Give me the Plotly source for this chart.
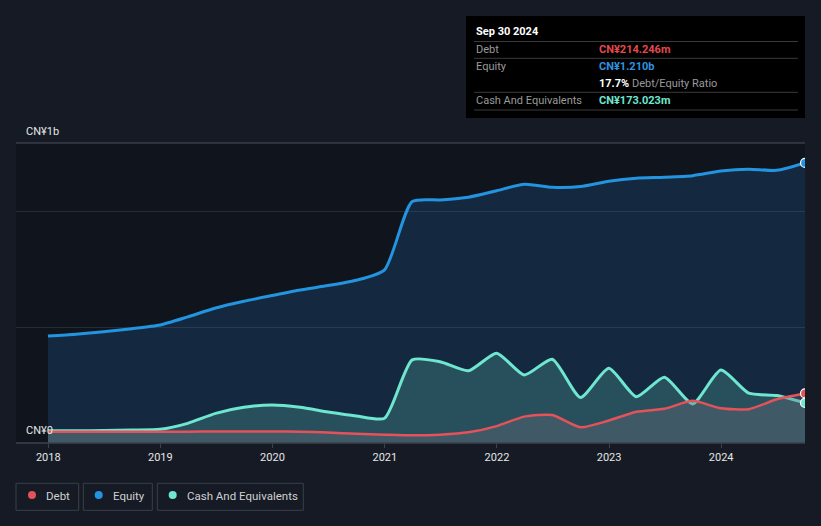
import plotly.graph_objects as go

# quarter ends, values in CN¥ billions
fechas = ['2017-12-31', '2018-03-31', '2018-06-30', '2018-09-30', '2018-12-31',
          '2019-03-31', '2019-06-30', '2019-09-30', '2019-12-31',
          '2020-03-31', '2020-06-30', '2020-09-30', '2020-12-31',
          '2021-03-31', '2021-06-30', '2021-09-30', '2021-12-31',
          '2022-03-31', '2022-06-30', '2022-09-30', '2022-12-31',
          '2023-03-31', '2023-06-30', '2023-09-30', '2023-12-31',
          '2024-03-31', '2024-06-30', '2024-09-30']

equity = [0.462, 0.470, 0.481, 0.494, 0.510,
          0.545, 0.583, 0.612, 0.637,
          0.661, 0.680, 0.703, 0.748,
          1.043, 1.050, 1.062, 1.090,
          1.118, 1.105, 1.108, 1.131,
          1.144, 1.148, 1.155, 1.175,
          1.183, 1.178, 1.210]

cash = [0.053, 0.053, 0.054, 0.056, 0.059,
        0.085, 0.128, 0.154, 0.164,
        0.154, 0.134, 0.117, 0.107,
        0.359, 0.351, 0.312, 0.388,
        0.294, 0.362, 0.197, 0.323,
        0.200, 0.284, 0.169, 0.315,
        0.215, 0.205, 0.173]

debt = [0.049, 0.049, 0.049, 0.049, 0.049,
        0.049, 0.050, 0.050, 0.050,
        0.049, 0.045, 0.040, 0.036,
        0.033, 0.036, 0.046, 0.073,
        0.114, 0.121, 0.068, 0.097,
        0.135, 0.148, 0.182, 0.150,
        0.146, 0.189, 0.214]

anios = ['2018', '2019', '2020', '2021', '2022', '2023', '2024']

c_debt = '#e5525a'
c_equity = '#2394df'
c_cash = '#6ee6d0'
fondo = '#151a24'

fig = go.Figure()
fig.add_trace(go.Scatter(x=fechas, y=equity, name='Equity', mode='lines',
                         line=dict(color=c_equity, width=3, shape='spline', smoothing=0.6),
                         fill='tozeroy', fillcolor='rgba(35,120,190,0.22)'))
fig.add_trace(go.Scatter(x=fechas, y=cash, name='Cash And Equivalents', mode='lines',
                         line=dict(color=c_cash, width=3, shape='spline', smoothing=0.6),
                         fill='tozeroy', fillcolor='rgba(95,200,180,0.25)'))
fig.add_trace(go.Scatter(x=fechas, y=debt, name='Debt', mode='lines',
                         line=dict(color=c_debt, width=2.5, shape='spline', smoothing=0.6),
                         fill='tozeroy', fillcolor='rgba(110,110,120,0.35)'))
# puntos finales
for serie, color in [(equity, c_equity), (debt, c_debt), (cash, c_cash)]:
    fig.add_trace(go.Scatter(x=[fechas[-1]], y=[serie[-1]], mode='markers',
                             marker=dict(color=color, size=9, line=dict(color='white', width=1.2)),
                             showlegend=False, cliponaxis=True))

# helpers para coordenadas en pixeles
def px(x):
    return (x - 16) / 789

def py(y):
    return (443 - y) / 300

shapes = []
annotations = []

# lineas superior e inferior
shapes.append(dict(type='line', xref='paper', yref='paper', x0=0, x1=1, y0=1, y1=1,
                   line=dict(color='#4a4f58', width=1)))
shapes.append(dict(type='line', xref='paper', yref='paper', x0=0, x1=1, y0=0, y1=0,
                   line=dict(color='#3c424c', width=1.5)))

annotations.append(dict(x=px(24), y=py(131), xref='paper', yref='paper', text='CN¥1b',
                        showarrow=False, xanchor='left', yanchor='middle',
                        font=dict(color='#e6e6e6', size=11)))
annotations.append(dict(x=px(24), y=py(430), xref='paper', yref='paper', text='CN¥0',
                        showarrow=False, xanchor='left', yanchor='middle',
                        font=dict(color='#e6e6e6', size=11)))

# caja de tooltip
shapes.append(dict(type='rect', xref='paper', yref='paper', x0=px(466), x1=px(805),
                   y0=py(118), y1=py(16), fillcolor='#000000', line=dict(width=0), layer='above'))
for ly in [41.5, 58.3, 92.3, 110]:
    shapes.append(dict(type='line', xref='paper', yref='paper', x0=px(474), x1=px(798),
                       y0=py(ly), y1=py(ly), line=dict(color='#3a3a3a', width=1), layer='above'))

def texto(x, y, t, color, size=11):
    annotations.append(dict(x=px(x), y=py(y), xref='paper', yref='paper', text=t,
                            showarrow=False, xanchor='left', yanchor='middle',
                            font=dict(color=color, size=size)))

texto(474, 31, '<b>Sep 30 2024</b>', '#ffffff')
texto(474, 49, 'Debt', '#9a9a9a')
texto(597, 49, '<b>CN¥214.246m</b>', '#e5484d')
texto(474, 66, 'Equity', '#9a9a9a')
texto(597, 66, '<b>CN¥1.210b</b>', '#2e93e0')
texto(597, 83, "<b>17.7%</b> <span style='color:#9a9a9a'>Debt/Equity Ratio</span>", '#ffffff')
texto(474, 100, 'Cash And Equivalents', '#9a9a9a')
texto(597, 100, '<b>CN¥173.023m</b>', c_cash)

# leyenda en cajas
leyenda = [('Debt', c_debt, 16, 78.7, 32, 44),
           ('Equity', c_equity, 83.3, 152.3, 98.7, 111),
           ('Cash And Equivalents', c_cash, 157.3, 303.3, 172.7, 185)]
for nombre, color, x0, x1, xd, xt in leyenda:
    shapes.append(dict(type='rect', xref='paper', yref='paper', x0=px(x0), x1=px(x1),
                       y0=py(510.3), y1=py(483.3), line=dict(color='#3a404a', width=1)))
    shapes.append(dict(type='circle', xref='paper', yref='paper', x0=px(xd - 4), x1=px(xd + 4),
                       y0=py(499), y1=py(491), fillcolor=color, line=dict(width=0)))
    texto(xt, 495.5, nombre, '#d0d0d0', 11.5)

fig.update_layout(
    width=821, height=526,
    margin=dict(l=16, r=16, t=143, b=83),
    paper_bgcolor=fondo,
    plot_bgcolor='#10141c',
    font=dict(family='Roboto', color='#e6e6e6'),
    showlegend=False,
    shapes=shapes,
    annotations=annotations,
    xaxis=dict(range=['2017-09-18', '2024-09-30'], tickvals=[a + '-01-01' for a in anios],
               ticktext=anios, showgrid=False, zeroline=False, ticks='outside',
               ticklen=4, tickcolor='#3c424c', tickfont=dict(size=11, color='#e6e6e6'),
               showline=False),
    yaxis=dict(range=[0, 1.296], tickvals=[0.5, 1.0], showticklabels=False,
               gridcolor='#262c36', gridwidth=1, zeroline=False, showline=False),
)

# quitar el margen del body para que la figura quede en 0,0
fig.write_html("out.html", config={'displayModeBar': False},
               post_script="document.body.style.margin='0';document.body.style.overflow='hidden';")
